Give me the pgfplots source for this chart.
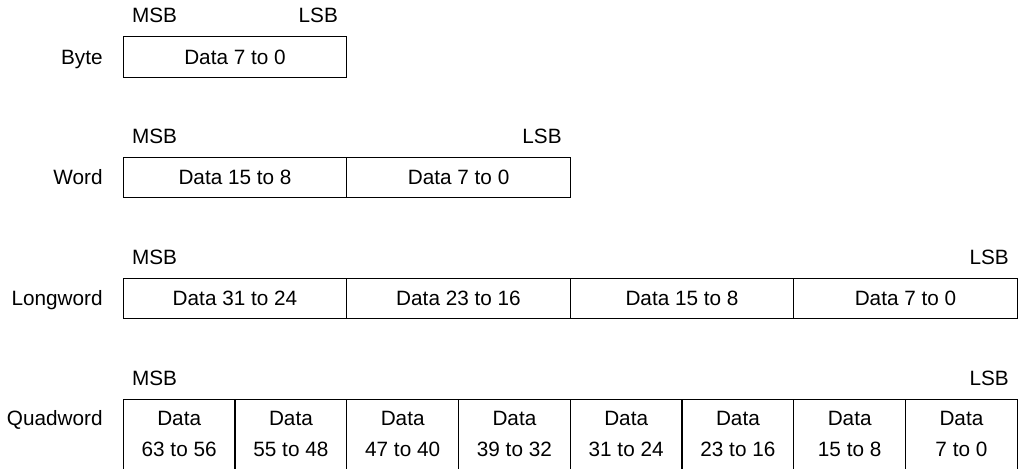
\documentclass[border=0pt]{standalone}
\usepackage{fontspec}
\setmainfont{Liberation Sans}
\usepackage{pgfplots}
\pgfplotsset{compat=1.18}
\begin{document}
\fontsize{10.4}{12.5}\selectfont
\begin{tikzpicture}
\begin{axis}[
  scale only axis, width=514.5pt, height=235pt,
  xmin=0, xmax=1029, ymin=0, ymax=470, y dir=reverse,
  hide axis, clip=false,
  cycle list={{black, line width=0.65pt, mark=none, line join=miter}},
  every node/.style={font=\fontsize{10.4}{12.5}\selectfont, inner sep=0pt},
]
% page frame (invisible)
\addplot[draw=none] coordinates {(0,0) (1029,470)};
% Byte
\addplot coordinates {(120.5,36.5) (344.5,36.5) (344.5,77.5) (120.5,77.5) (120.5,36.5)};
% Word
\addplot coordinates {(120.5,157.5) (569,157.5) (569,198.5) (120.5,198.5) (120.5,157.5)};
\addplot coordinates {(344.5,157.5) (344.5,198.5)};
% Longword
\addplot coordinates {(120.5,279) (1017.3,279) (1017.3,319.5) (120.5,319.5) (120.5,279)};
\addplot coordinates {(344.5,279) (344.5,319.5)};
\addplot coordinates {(568.8,279) (568.8,319.5)};
\addplot coordinates {(793,279) (793,319.5)};
% Quadword (bottom cut by the page)
\addplot coordinates {(120.5,470) (120.5,401) (1017.3,401) (1017.3,470)};
\addplot coordinates {(232.6,401) (232.6,470)};
\addplot coordinates {(344.7,401) (344.7,470)};
\addplot coordinates {(456.8,401) (456.8,470)};
\addplot coordinates {(568.9,401) (568.9,470)};
\addplot coordinates {(681.0,401) (681.0,470)};
\addplot coordinates {(793.1,401) (793.1,470)};
\addplot coordinates {(905.2,401) (905.2,470)};

% row labels
\node[anchor=base east] at (axis cs:107,64.4) {Byte};
\node[anchor=base east] at (axis cs:107,185.4) {Word};
\node[anchor=base east] at (axis cs:107,306.6) {Longword};
\node[anchor=base east] at (axis cs:107,426.7) {Quadword};

% MSB / LSB
\node[anchor=base west] at (axis cs:122,22.7) {MSB};
\node[anchor=base east] at (axis cs:343,22.7) {LSB};
\node[anchor=base west] at (axis cs:122,143.7) {MSB};
\node[anchor=base east] at (axis cs:567.5,143.7) {LSB};
\node[anchor=base west] at (axis cs:122,265.2) {MSB};
\node[anchor=base east] at (axis cs:1016,265.2) {LSB};
\node[anchor=base west] at (axis cs:122,386.7) {MSB};
\node[anchor=base east] at (axis cs:1016,386.7) {LSB};

% Byte / Word / Longword cell texts
\node[anchor=base] at (axis cs:232.5,64.4) {Data 7 to 0};
\node[anchor=base] at (axis cs:232.5,185.4) {Data 15 to 8};
\node[anchor=base] at (axis cs:456.8,185.4) {Data 7 to 0};
\node[anchor=base] at (axis cs:232.5,306.6) {Data 31 to 24};
\node[anchor=base] at (axis cs:456.7,306.6) {Data 23 to 16};
\node[anchor=base] at (axis cs:680.9,306.6) {Data 15 to 8};
\node[anchor=base] at (axis cs:905.1,306.6) {Data 7 to 0};

% Quadword cell texts
\foreach \cx/\lab in {176.5/63 to 56, 288.6/55 to 48, 400.7/47 to 40, 512.8/39 to 32, 624.9/31 to 24, 737.0/23 to 16, 849.1/15 to 8, 961.2/7 to 0}{
  \edef\tmp{\noexpand\node[anchor=base] at (axis cs:\cx,426.7) {Data};
    \noexpand\node[anchor=base] at (axis cs:\cx,457.7) {\lab};}
  \tmp
}
\end{axis}
\end{tikzpicture}
\end{document}
